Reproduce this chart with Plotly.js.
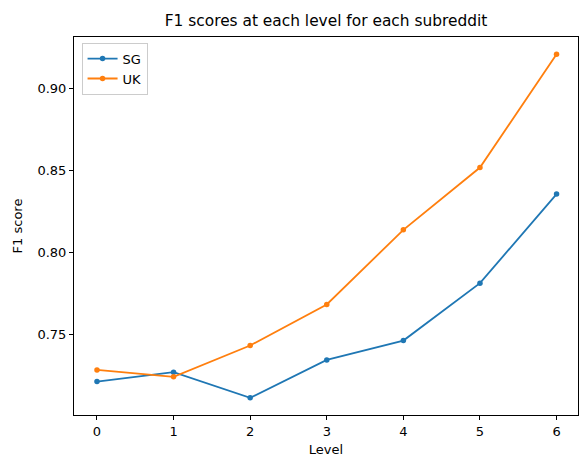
<!DOCTYPE html>
<html>
<head>
<meta charset="utf-8">
<script src="https://cdn.plot.ly/plotly-3.0.1.min.js"></script>
<style>html,body{margin:0;padding:0;background:#fff;}#chart{width:579px;height:458px;}</style>
</head>
<body>
<div id="chart"></div>
<script>
const levels = [0, 1, 2, 3, 4, 5, 6];
const sgScores = [0.7211, 0.7268, 0.7112, 0.7343, 0.7461, 0.7811, 0.8354];
const ukScores = [0.7282, 0.7240, 0.7431, 0.7681, 0.8136, 0.8516, 0.9207];
const seriesNames = ['SG', 'UK'];
const yTicks = [0.75, 0.80, 0.85, 0.90];
const xTicks = [0, 1, 2, 3, 4, 5, 6];

const font = {family: 'DejaVu Sans, sans-serif', color: '#000'};
const traces = [
  {x: levels, y: sgScores, name: seriesNames[0], mode: 'lines+markers',
   line: {color: '#1f77b4', width: 1.8}, marker: {color: '#1f77b4', size: 5.5}},
  {x: levels, y: ukScores, name: seriesNames[1], mode: 'lines+markers',
   line: {color: '#ff7f0e', width: 1.8}, marker: {color: '#ff7f0e', size: 5.5}}
];
const axisCommon = {
  showline: true, linecolor: '#000', linewidth: 1, mirror: true,
  ticks: 'outside', ticklen: 4, tickwidth: 1, tickcolor: '#000',
  showgrid: false, zeroline: false,
  tickfont: Object.assign({size: 13}, font)
};
const layout = {
  width: 579, height: 458,
  margin: {l: 74, r: 1, t: 37, b: 43},
  paper_bgcolor: '#fff', plot_bgcolor: '#fff',
  font: font,
  title: {text: 'F1 scores at each level for each subreddit', font: Object.assign({size: 15.4}, font),
          xref: 'paper', x: 0.5, xanchor: 'center', y: 0.955, yanchor: 'middle'},
  xaxis: Object.assign({}, axisCommon, {
    range: [-0.3, 6.28], tickvals: xTicks, ticktext: xTicks.map(String),
    title: {text: 'Level', font: Object.assign({size: 13}, font), standoff: 7}
  }),
  yaxis: Object.assign({}, axisCommon, {
    range: [0.7007, 0.9312], tickvals: yTicks, ticktext: yTicks.map(v => v.toFixed(2)),
    title: {text: 'F1 score', font: Object.assign({size: 13}, font), standoff: 11}
  }),
  showlegend: true,
  legend: {x: 0.015, y: 0.985, xanchor: 'left', yanchor: 'top',
           bgcolor: 'rgba(255,255,255,0.8)', bordercolor: '#ccc', borderwidth: 1,
           font: Object.assign({size: 13}, font), tracegroupgap: 0, itemwidth: 30}
};
Plotly.newPlot('chart', traces, layout, {displayModeBar: false, staticPlot: true});
</script>
</body>
</html>
